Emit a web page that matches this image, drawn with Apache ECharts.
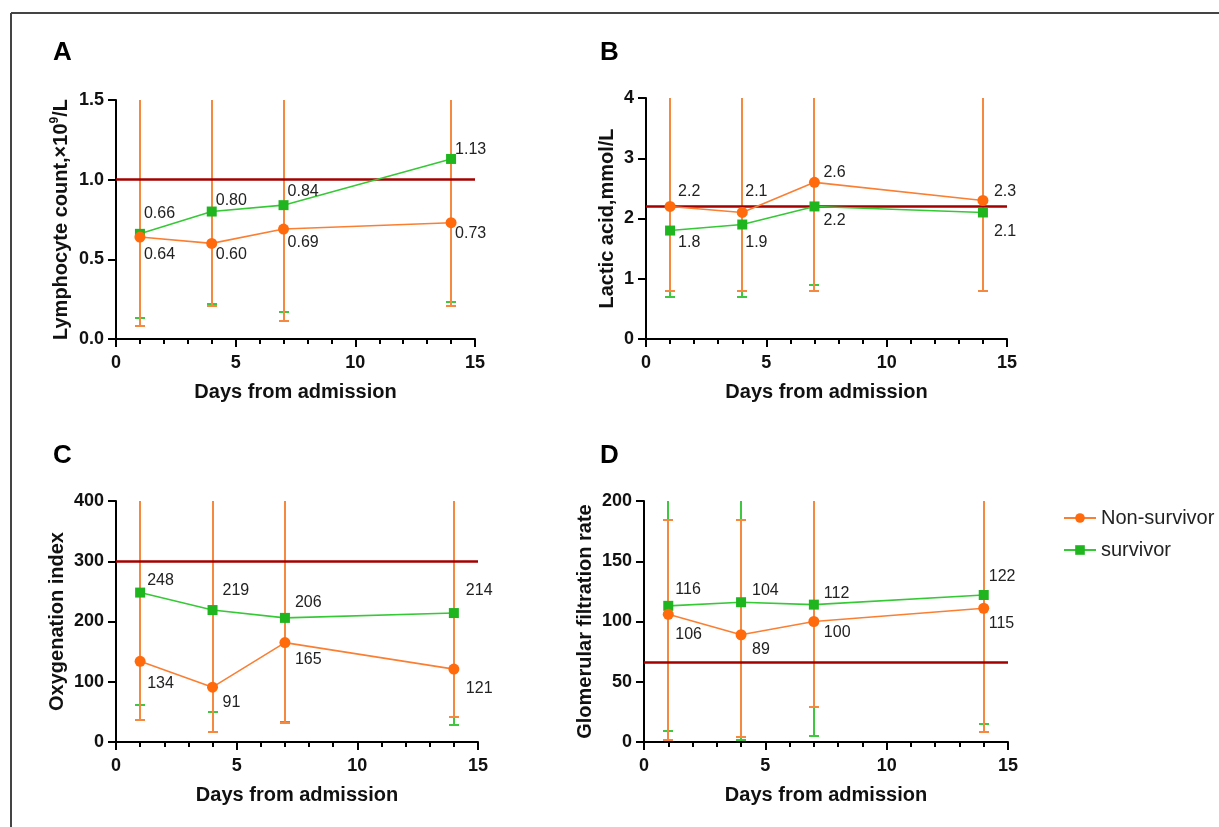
<!DOCTYPE html>
<html>
<head>
<meta charset="utf-8">
<script src="https://cdn.jsdelivr.net/npm/echarts@6/dist/echarts.min.js"></script>
<style>
  html, body { margin: 0; padding: 0; background: #fff; }
  #chart { width: 1219px; height: 827px; }
</style>
</head>
<body>
<div id="chart"></div>
<script>
// sampling days
const days = [1, 4, 7, 14];

// A: lymphocyte count
const lymphoNon = [0.64, 0.60, 0.69, 0.73];
const lymphoSur = [0.66, 0.80, 0.84, 1.13];
const lymphoNonLow = [0.08, 0.21, 0.11, 0.21];
const lymphoNonHigh = [1.8, 1.8, 1.8, 1.8];
const lymphoSurLow = [0.13, 0.22, 0.17, 0.23];
const lymphoSurHigh = [1.7, 1.7, 1.7, 1.7];
const lymphoNonLabels = ['0.64', '0.60', '0.69', '0.73'];
const lymphoSurLabels = ['0.66', '0.80', '0.84', '1.13'];
const lymphoRef = 1.0;

// B: lactic acid
const lacticNon = [2.2, 2.1, 2.6, 2.3];
const lacticSur = [1.8, 1.9, 2.2, 2.1];
const lacticNonLow = [0.8, 0.8, 0.8, 0.8];
const lacticNonHigh = [4.6, 4.6, 4.6, 4.6];
const lacticSurLow = [0.7, 0.7, 0.9, 0.8];
const lacticSurHigh = [4.4, 4.4, 4.4, 4.4];
const lacticNonLabels = ['2.2', '2.1', '2.6', '2.3'];
const lacticSurLabels = ['1.8', '1.9', '2.2', '2.1'];
const lacticRef = 2.2;

// C: oxygenation index
const oxyNon = [134, 91, 165, 121];
const oxySur = [248, 219, 206, 214];
const oxyNonLow = [36, 16, 32, 41];
const oxyNonHigh = [450, 450, 450, 450];
const oxySurLow = [61, 49, 34, 28];
const oxySurHigh = [430, 430, 430, 430];
const oxyNonLabels = ['134', '91', '165', '121'];
const oxySurLabels = ['248', '219', '206', '214'];
const oxyRef = 300;

// D: glomerular filtration rate
const gfrNon = [106, 89, 100, 111];
const gfrSur = [113, 116, 114, 122];
const gfrNonLow = [2, 4, 29, 8];
const gfrNonHigh = [184, 184, 230, 230];
const gfrSurLow = [9, 2, 5, 15];
const gfrSurHigh = [220, 220, 220, 220];
const gfrNonLabels = ['106', '89', '100', '115'];
const gfrSurLabels = ['116', '104', '112', '122'];
const gfrRef = 66;

// label placement (pixels from the marker centre)
const shiftA = { non: [[4, 18], [4, 11], [4, 14], [4, 11]], sur: [[4, -20], [4, -11], [4, -14], [4, -9]] };
const shiftB = { non: [[8, -15], [3, -21], [9, -10], [11, -9]], sur: [[8, 12], [3, 18], [9, 14], [11, 19]] };
const shiftC = { non: [[7, 22], [10, 15], [10, 17], [12, 19]], sur: [[7, -12], [10, -19], [10, -15], [12, -22]] };
const shiftD = { non: [[7, 20], [11, 15], [10, 11], [5, 15]], sur: [[7, -16], [11, -12], [10, -11], [5, -18]] };

const ORANGE = '#ff6a0d';
const ORANGE_LINE = '#fb7f33';
const ORANGE_ERR = '#f5893f';
const GREEN = '#1fb51f';
const GREEN_LINE = '#36c936';
const GREEN_ERR = '#3fc83f';
const REF = '#a30000';
const FONT = '"Liberation Sans", Arial, sans-serif';

function errRender(color) {
  return function (params, api) {
    const cs = params.coordSys;
    const x = Math.round(api.coord([api.value(0), 0])[0]);
    const yLo = Math.round(api.coord([0, api.value(1)])[1]);
    const yHi = Math.round(api.coord([0, api.value(2)])[1]);
    const top = cs.y, bottom = cs.y + cs.height;
    const style = { stroke: color, lineWidth: 2 };
    const kids = [{
      type: 'line',
      shape: { x1: x, y1: Math.max(yHi, top), x2: x, y2: Math.min(yLo, bottom) },
      style: style
    }];
    if (yHi >= top) kids.push({ type: 'line', shape: { x1: x - 5, y1: yHi, x2: x + 5, y2: yHi }, style: style });
    if (yLo <= bottom) kids.push({ type: 'line', shape: { x1: x - 5, y1: yLo, x2: x + 5, y2: yLo }, style: style });
    return { type: 'group', children: kids };
  };
}

const grids = [
  { left: 116, top: 100, width: 359, height: 239 },
  { left: 646, top: 98, width: 361, height: 241 },
  { left: 116, top: 501, width: 362, height: 241 },
  { left: 644, top: 501, width: 364, height: 241 }
];

const panels = [
  { non: lymphoNon, sur: lymphoSur, nonLow: lymphoNonLow, nonHigh: lymphoNonHigh, surLow: lymphoSurLow, surHigh: lymphoSurHigh,
    nonLabels: lymphoNonLabels, surLabels: lymphoSurLabels, ref: lymphoRef, shift: shiftA,
    max: 1.5, interval: 0.5, digits: 1, name: 'Lymphocyte count,×10{sup|9}/L', nameGap: 43 },
  { non: lacticNon, sur: lacticSur, nonLow: lacticNonLow, nonHigh: lacticNonHigh, surLow: lacticSurLow, surHigh: lacticSurHigh,
    nonLabels: lacticNonLabels, surLabels: lacticSurLabels, ref: lacticRef, shift: shiftB,
    max: 4, interval: 1, digits: 0, name: 'Lactic acid,mmol/L', nameGap: 29 },
  { non: oxyNon, sur: oxySur, nonLow: oxyNonLow, nonHigh: oxyNonHigh, surLow: oxySurLow, surHigh: oxySurHigh,
    nonLabels: oxyNonLabels, surLabels: oxySurLabels, ref: oxyRef, shift: shiftC,
    max: 400, interval: 100, digits: 0, name: 'Oxygenation index', nameGap: 49 },
  { non: gfrNon, sur: gfrSur, nonLow: gfrNonLow, nonHigh: gfrNonHigh, surLow: gfrSurLow, surHigh: gfrSurHigh,
    nonLabels: gfrNonLabels, surLabels: gfrSurLabels, ref: gfrRef, shift: shiftD,
    max: 200, interval: 50, digits: 0, name: 'Glomerular filtration rate', nameGap: 49 }
];

const xAxes = [], yAxes = [], series = [];

panels.forEach(function (p, i) {
  xAxes.push({
    gridIndex: i, type: 'value', min: 0, max: 15, interval: 5,
    name: 'Days from admission', nameLocation: 'middle', nameGap: 43,
    nameTextStyle: { fontFamily: FONT, fontWeight: 'bold', fontSize: 20, color: '#111' },
    axisLine: { show: true, onZero: false, lineStyle: { color: '#000', width: 2 } },
    axisTick: { show: true, length: 8, lineStyle: { color: '#000', width: 2 } },
    minorTick: { show: true, splitNumber: 5, length: 5, lineStyle: { color: '#000', width: 2 } },
    axisLabel: { fontFamily: FONT, fontWeight: 'bold', fontSize: 18, color: '#111', margin: 15 },
    splitLine: { show: false }
  });
  yAxes.push({
    gridIndex: i, type: 'value', min: 0, max: p.max, interval: p.interval,
    name: p.name, nameLocation: 'middle', nameGap: p.nameGap, nameRotate: 90,
    nameTextStyle: {
      fontFamily: FONT, fontWeight: 'bold', fontSize: 20, color: '#111',
      rich: { sup: { fontFamily: FONT, fontWeight: 'bold', fontSize: 12, verticalAlign: 'top', lineHeight: 24, padding: [0, 0, 8, 0] } }
    },
    axisLine: { show: true, lineStyle: { color: '#000', width: 2 } },
    axisTick: { show: true, length: 8, lineStyle: { color: '#000', width: 2 } },
    axisLabel: {
      fontFamily: FONT, fontWeight: 'bold', fontSize: 18, color: '#111', margin: 12,
      formatter: (function (d) { return function (v) { return v.toFixed(d); }; })(p.digits)
    },
    splitLine: { show: false }
  });

  series.push({
    name: 'errSur' + i, type: 'custom', xAxisIndex: i, yAxisIndex: i, z: 2, silent: true,
    renderItem: errRender(GREEN_ERR),
    data: days.map(function (d, k) { return [d, p.surLow[k], p.surHigh[k]]; })
  });
  series.push({
    name: 'errNon' + i, type: 'custom', xAxisIndex: i, yAxisIndex: i, z: 3, silent: true,
    renderItem: errRender(ORANGE_ERR),
    data: days.map(function (d, k) { return [d, p.nonLow[k], p.nonHigh[k]]; })
  });

  const mkLabel = function (labels) {
    return {
      show: true, position: 'inside', align: 'left', verticalAlign: 'middle',
      fontFamily: FONT, fontSize: 16, color: '#222',
      formatter: function (q) { return labels[q.dataIndex]; }
    };
  };

  series.push({
    name: 'survivor', type: 'line', xAxisIndex: i, yAxisIndex: i, z: 5,
    symbol: 'rect', symbolSize: 10,
    itemStyle: { color: GREEN },
    lineStyle: { color: GREEN_LINE, width: 1.6 },
    label: mkLabel(p.surLabels),
    data: days.map(function (d, k) { return { value: [d, p.sur[k]], label: { offset: p.shift.sur[k] } }; }),
    markLine: {
      silent: true, symbol: 'none', label: { show: false }, z: 4,
      lineStyle: { color: REF, width: 2.5, type: 'solid' },
      data: [{ yAxis: p.ref }]
    }
  });
  series.push({
    name: 'Non-survivor', type: 'line', xAxisIndex: i, yAxisIndex: i, z: 6,
    symbol: 'circle', symbolSize: 11,
    itemStyle: { color: ORANGE },
    lineStyle: { color: ORANGE_LINE, width: 1.6 },
    label: mkLabel(p.nonLabels),
    data: days.map(function (d, k) { return { value: [d, p.non[k]], label: { offset: p.shift.non[k] } }; })
  });
});

const letters = [['A', 53, 40], ['B', 600, 40], ['C', 53, 443], ['D', 600, 443]];

const chart = echarts.init(document.getElementById('chart'), null, { renderer: 'canvas' });
chart.setOption({
  animation: false,
  backgroundColor: '#fff',
  grid: grids,
  xAxis: xAxes,
  yAxis: yAxes,
  series: series,
  legend: {
    data: ['Non-survivor', 'survivor'],
    orient: 'vertical', left: 1058, top: 503, itemGap: 12,
    itemWidth: 32, itemHeight: 12,
    textStyle: { fontFamily: FONT, fontSize: 20, color: '#222' }
  },
  graphic: letters.map(function (l) {
    return {
      type: 'text', left: l[1], top: l[2], silent: true,
      style: { text: l[0], font: 'bold 26px ' + FONT, fill: '#000' }
    };
  }).concat([
    { type: 'line', silent: true, shape: { x1: 11, y1: 13, x2: 1219, y2: 13 }, style: { stroke: '#444', lineWidth: 2 } },
    { type: 'line', silent: true, shape: { x1: 11, y1: 13, x2: 11, y2: 827 }, style: { stroke: '#444', lineWidth: 2 } }
  ])
});
</script>
</body>
</html>
